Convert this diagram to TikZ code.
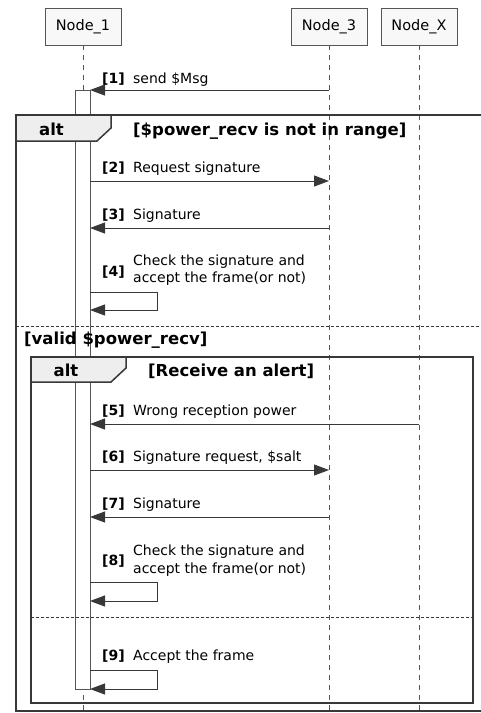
\documentclass[tikz,border=0pt]{standalone}
\usepackage{fontspec}
\setmainfont{DejaVu Sans}
\usetikzlibrary{arrows.meta}
\definecolor{linec}{HTML}{383838}
\definecolor{boxfill}{HTML}{F8F8F8}
\definecolor{tabfill}{HTML}{EEEEEE}
\definecolor{lifec}{HTML}{555555}
\begin{document}
\begin{tikzpicture}[x=1pt,y=-1pt,
 participant/.style={draw=lifec, fill=boxfill, line width=0.9pt, minimum width=76pt, minimum height=37pt, inner sep=0pt, font=\fontsize{14.5}{17}\selectfont},
 lifeline/.style={draw=lifec, line width=0.9pt, dash pattern=on 5pt off 5pt},
 actbar/.style={draw=lifec, fill=white, line width=1pt},
 msg/.style={draw=linec, line width=1pt, -{Triangle[length=15pt,width=11pt]}},
 num/.style={anchor=base west, inner sep=0pt, font=\fontsize{14}{17.5}\bfseries\selectfont},
 lbl/.style={anchor=base west, inner sep=0pt, font=\fontsize{14}{17.5}\selectfont, align=left},
 frame/.style={draw=linec, line width=2pt},
 tab/.style={draw=linec, fill=tabfill, line width=1.5pt},
 cond/.style={anchor=base west, inner sep=0pt, font=\fontsize{16.5}{20}\bfseries\selectfont},
 tabtext/.style={anchor=base, inner sep=0pt, font=\fontsize{16.5}{20}\bfseries\selectfont},
 sep/.style={draw=linec, line width=1pt, dash pattern=on 3pt off 2pt}]
\useasboundingbox (0,0) rectangle (481,713);
\fill[white] (0,0) rectangle (481,713);
\clip (0,0) rectangle (481,713);

% participants
\node[participant] (n1) at (83,26.5) {Node\_1};
\node[participant] (n3) at (329,26.5) {Node\_3};
\node[participant] (nx) at (419,26.5) {Node\_X};

% lifelines
\coordinate (n1end) at (83,720);
\coordinate (n3end) at (329,720);
\coordinate (nxend) at (419,720);
\draw[lifeline] (n1.south) -- (n1end);
\draw[lifeline] (n3.south) -- (n3end);
\draw[lifeline] (nx.south) -- (nxend);

% activation bar
\node[actbar, anchor=north west, minimum width=15pt, minimum height=599pt, inner sep=0pt] (act) at (75,90) {};

% outer alt frame
\draw[frame] (16,115) rectangle (495,711);
\draw[tab] (16,115) -- (111,115) -- (111,128) -- (97,141) -- (16,141) -- cycle;
\node[tabtext] (alt1) at (51.5,135) {alt};
\node[cond] (c1) at (133,135) {[\$power\_recv is not in range]};
\draw[sep] (16,326) -- (495,326);
\node[cond] (c2) at (24,344) {[valid \$power\_recv]};

% inner alt frame
\draw[frame] (31,357) rectangle (472.5,702.5);
\draw[tab] (31,357) -- (126,357) -- (126,368) -- (111,382) -- (31,382) -- cycle;
\node[tabtext] (alt2) at (66,376.7) {alt};
\node[cond] (c3) at (148,376.7) {[Receive an alert]};
\draw[sep] (31,617) -- (472.5,617);

% message 1
\coordinate (m1s) at (329,90); \coordinate (m1e) at (90,90);
\draw[msg] (m1s) -- (m1e);
\node[num] (k1) at (102,83) {[1]};
\node[lbl] (t1) at (133,83) {send \$Msg};

% message 2
\coordinate (m2s) at (90,181); \coordinate (m2e) at (329,181);
\draw[msg] (m2s) -- (m2e);
\node[num] (k2) at (102,172.5) {[2]};
\node[lbl] (t2) at (133,172.5) {Request signature};

% message 3
\coordinate (m3s) at (329,228); \coordinate (m3e) at (90,228);
\draw[msg] (m3s) -- (m3e);
\node[num] (k3) at (102,219.5) {[3]};
\node[lbl] (t3) at (133,219.5) {Signature};

% message 4 (self)
\coordinate (m4a) at (90,292); \coordinate (m4b) at (157,292);
\coordinate (m4c) at (157,310); \coordinate (m4d) at (90,310);
\draw[msg] (m4a) -- (m4b) -- (m4c) -- (m4d);
\node[num] (k4) at (102,276.7) {[4]};
\node[lbl] (t4) at (133,282.7) {Check the signature and\\accept the frame(or not)};

% message 5
\coordinate (m5s) at (419,424); \coordinate (m5e) at (90,424);
\draw[msg] (m5s) -- (m5e);
\node[num] (k5) at (102,415.5) {[5]};
\node[lbl] (t5) at (133,415.5) {Wrong reception power};

% message 6
\coordinate (m6s) at (90,470); \coordinate (m6e) at (329,470);
\draw[msg] (m6s) -- (m6e);
\node[num] (k6) at (102,461.5) {[6]};
\node[lbl] (t6) at (133,461.5) {Signature request, \$salt};

% message 7
\coordinate (m7s) at (329,517); \coordinate (m7e) at (90,517);
\draw[msg] (m7s) -- (m7e);
\node[num] (k7) at (102,508.5) {[7]};
\node[lbl] (t7) at (133,508.5) {Signature};

% message 8 (self)
\coordinate (m8a) at (90,582); \coordinate (m8b) at (157,582);
\coordinate (m8c) at (157,601); \coordinate (m8d) at (90,601);
\draw[msg] (m8a) -- (m8b) -- (m8c) -- (m8d);
\node[num] (k8) at (102,565) {[8]};
\node[lbl] (t8) at (133,573.3) {Check the signature and\\accept the frame(or not)};

% message 9 (self)
\coordinate (m9a) at (90,670); \coordinate (m9b) at (157,670);
\coordinate (m9c) at (157,689); \coordinate (m9d) at (90,689);
\draw[msg] (m9a) -- (m9b) -- (m9c) -- (m9d);
\node[num] (k9) at (102,660) {[9]};
\node[lbl] (t9) at (133,660) {Accept the frame};
\end{tikzpicture}
\end{document}
